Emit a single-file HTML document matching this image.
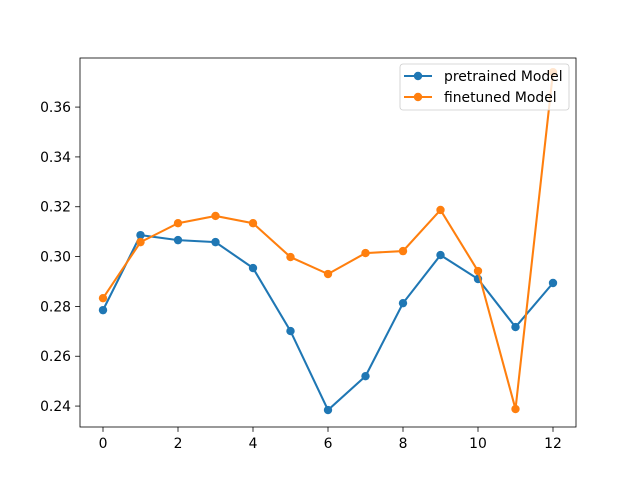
<!DOCTYPE html>
<html><head><meta charset="utf-8"><style>
body{margin:0;background:#fff}
svg{display:block;font-family:"DejaVu Sans","Liberation Sans",sans-serif}
</style></head><body>
<svg id="chart" width="640" height="480"></svg>
<script>
const xCategories=[0,1,2,3,4,5,6,7,8,9,10,11,12];
const pretrainedValues=[0.2785,0.3086,0.3066,0.3058,0.2954,0.2701,0.2384,0.2520,0.2813,0.3006,0.2910,0.2717,0.2894];
const finetunedValues=[0.2833,0.3058,0.3134,0.3163,0.3134,0.2998,0.2930,0.3014,0.3022,0.3187,0.2942,0.2388,0.374];
const xTicks=[0,2,4,6,8,10,12];
const yTicks=[0.24,0.26,0.28,0.30,0.32,0.34,0.36];
const seriesNames=["pretrained Model","finetuned Model"];

const svg=document.getElementById('chart');
const NS='http://www.w3.org/2000/svg';
const L=80,R=576,T=58,B=427;
const yMin=0.2316,yMax=0.3797;
function sx(v){return 103+(v-0)*37.5;}
function sy(v){return B-(v-yMin)/(yMax-yMin)*(B-T);}
function mk(tag,attrs,parent){const e=document.createElementNS(NS,tag);for(const k in attrs)e.setAttribute(k,attrs[k]);(parent||svg).appendChild(e);return e;}

const axes=mk('g',{});


mk('rect',{x:L,y:T,width:R-L,height:B-T,fill:'none',stroke:'#000','stroke-width':0.8},axes);

const xg=mk('g',{});


xTicks.forEach(t=>{
  const x=sx(t);
  mk('line',{x1:x,x2:x,y1:B,y2:B+4.9,stroke:'#000','stroke-width':0.8},xg);
  const tx=mk('text',{x:x,y:B+21,'text-anchor':'middle','font-size':13.9,fill:'#000'},xg);
  tx.textContent=t;
  
  
});
const yg=mk('g',{});


yTicks.forEach(t=>{
  const y=sy(t);
  mk('line',{x1:L-4.9,x2:L,y1:y,y2:y,stroke:'#000','stroke-width':0.8},yg);
  const tx=mk('text',{x:L-9,y:y+5,'text-anchor':'end','font-size':13.9,fill:'#000'},yg);
  tx.textContent=t.toFixed(2);
  
  
});

const clip=mk('clipPath',{id:'clp'});
mk('rect',{x:L,y:T,width:R-L,height:B-T},clip);

function series(vals,color,name){
  const g=mk('g',{'clip-path':'url(#clp)'});
  
  
  mk('polyline',{points:vals.map((v,i)=>sx(xCategories[i])+','+sy(v)).join(' '),fill:'none',stroke:color,'stroke-width':2.08},g);
  vals.forEach((v,i)=>{
    const c=mk('circle',{cx:sx(xCategories[i]),cy:sy(v),r:4.2,fill:color},g);
    
    
  });
}
series(pretrainedValues,'#1f77b4','pretrained-series');
series(finetunedValues,'#ff7f0e','finetuned-series');

const lg=mk('g',{});


mk('rect',{x:400,y:64,width:169,height:46,rx:3,fill:'#fff','fill-opacity':0.8,stroke:'#ccc','stroke-width':0.8},lg);
const colors=['#1f77b4','#ff7f0e'];
seriesNames.forEach((n,i)=>{
  const y=76+i*21;
  const e=mk('g',{},lg);
  
  
  mk('line',{x1:404,x2:432,y1:y,y2:y,stroke:colors[i],'stroke-width':2.08},e);
  mk('circle',{cx:418,cy:y,r:4.2,fill:colors[i]},e);
  const t=mk('text',{x:444,y:y+5,'font-size':13.9,fill:'#000'},e);
  t.textContent=n;
});
</script>
</body></html>
